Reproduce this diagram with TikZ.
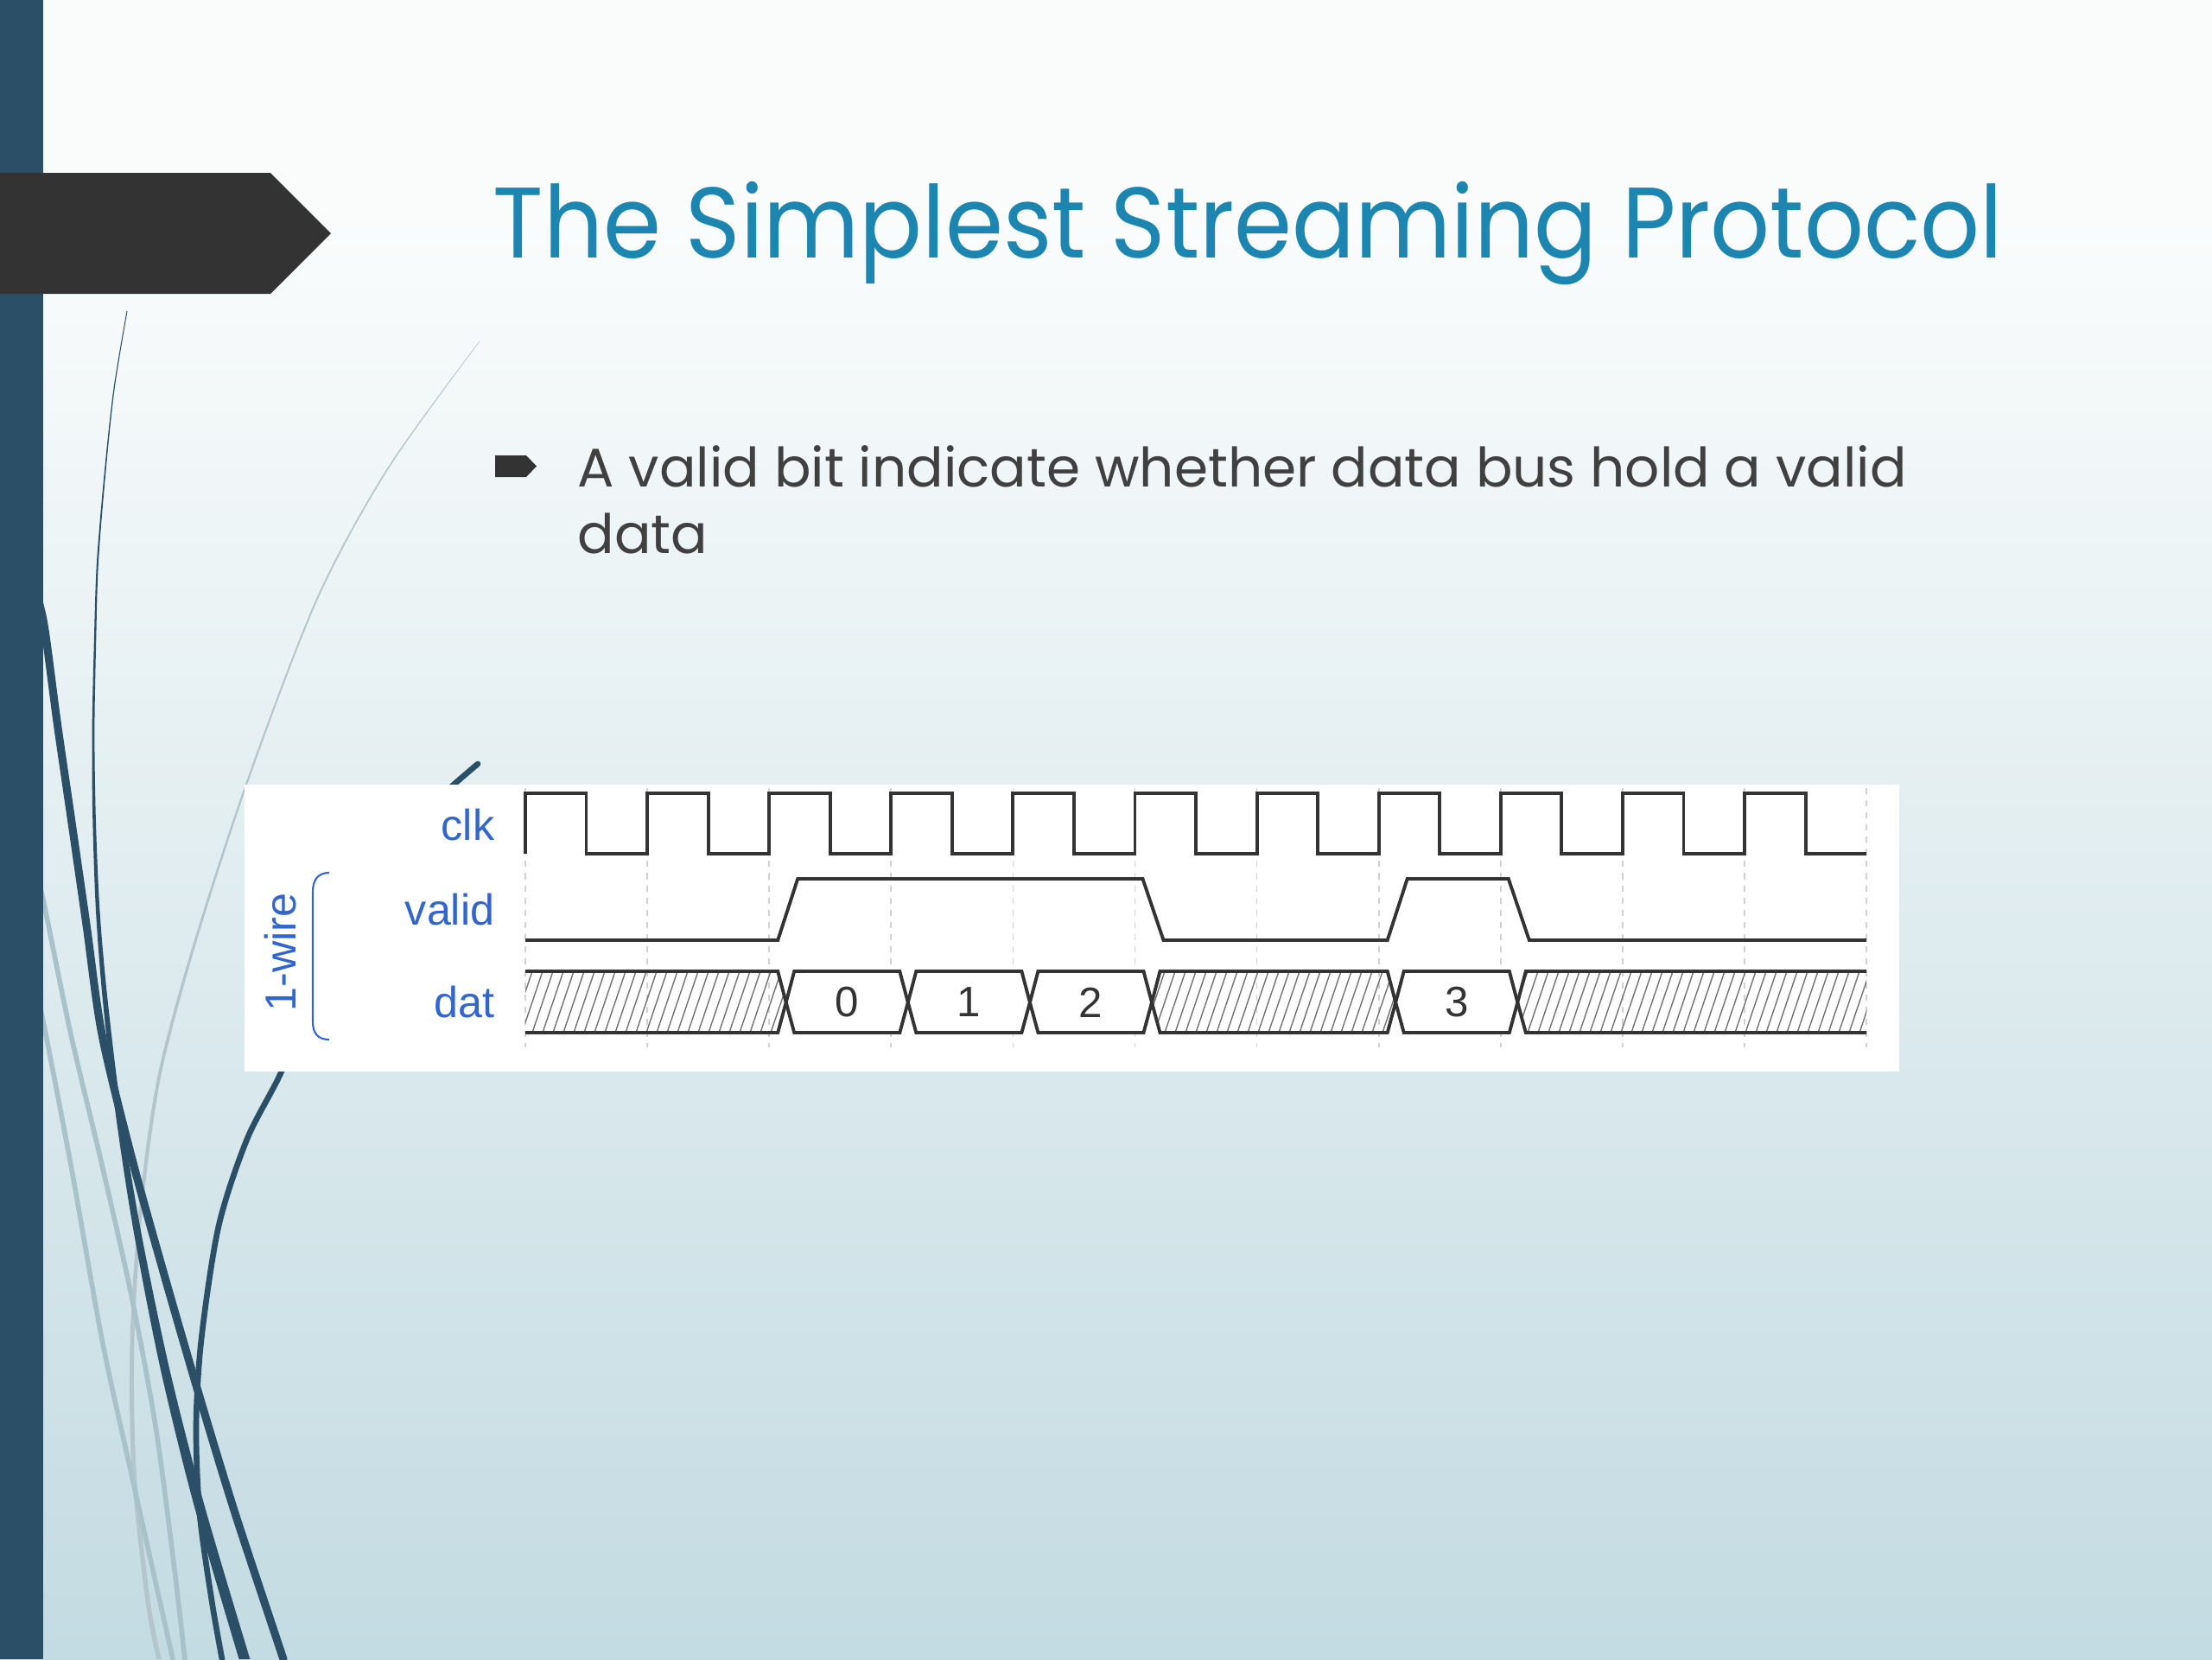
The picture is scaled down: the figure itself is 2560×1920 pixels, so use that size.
\documentclass[tikz,border=0pt]{standalone}
\usepackage{fontspec}
\usepackage{xcolor}
\definecolor{barblue}{HTML}{2B4F67}
\definecolor{tagdark}{HTML}{333333}
\definecolor{titleblue}{HTML}{1C86B1}
\definecolor{bodygray}{HTML}{404040}
\definecolor{sigblue}{HTML}{3366CC}
\definecolor{bgtop}{HTML}{FAFCFC}
\definecolor{bgbottom}{HTML}{C3DBE2}
\definecolor{swirllight}{HTML}{A9C1C9}
\definecolor{swirlfaint}{HTML}{B4C6CB}
\newfontfamily\titlefont{Poppins}
\newfontfamily\sigfont{Liberation Sans}
\usetikzlibrary{calc}
% x position of the k-th rising clock edge
\newcommand{\clkx}[1]{608+141.1*#1}

\begin{document}
\begin{tikzpicture}[x=0.01cm,y=-0.01cm,
  wave/.style={draw=tagdark,line width=1.1pt},
  gridline/.style={draw=black!18,line width=0.5pt,dash pattern=on 2pt off 2pt},
  hatch/.style={draw=black!55,line width=0.4pt},
  sig/.style={font=\sigfont\fontsize{14.3}{16}\selectfont,text=sigblue,inner sep=0pt},
  val/.style={font=\sigfont\fontsize{14}{16}\selectfont,text=tagdark,inner sep=0pt},
  swirl/.style={draw=barblue,line cap=round},
  swirlpale/.style={draw=swirllight,line cap=round}
]

% Fondo
\useasboundingbox (0,0) rectangle (2560,1920);
\fill[bgtop] (0,0) rectangle (2560,250);
\shade[top color=bgtop,bottom color=bgbottom] (0,250) rectangle (2560,1920);

% Curvas decorativas
\fill[swirlfaint] plot[smooth] coordinates {(555,394.5) (448.4,541.5) (366.2,692.5) (284.8,905) (222.4,1096) (182,1247) (160.8,1398) (150.6,1550) (152.4,1701) (168.2,1852) (181,1920)}
  -- plot[smooth] coordinates {(187,1920) (173.8,1852) (157.6,1701) (155.4,1550) (165.2,1398) (186,1247) (225.6,1096) (287.2,905) (367.8,693.5) (449.6,542.5) (555,395.5)} -- cycle;
\draw[swirlpale,line width=1.6pt] plot[smooth] coordinates {(40,1000) (51,1046) (82,1197) (118,1348) (152,1499) (180,1650) (200,1800) (214,1920)};
\draw[swirlpale,line width=1.6pt] plot[smooth] coordinates {(40,1140) (51,1187) (82,1348) (118,1550) (151,1701) (200,1920)};
\fill[barblue] plot[smooth] coordinates {(146.5,360) (131.4,450) (121.2,542) (112,650) (108.8,743) (106.6,845) (107.2,945) (110.8,1050) (118.2,1150) (132.6,1280) (153.8,1420) (184.8,1580) (224,1740) (276.6,1920)}
  -- plot[smooth] coordinates {(289.4,1920) (236,1740) (195.2,1580) (162.2,1420) (139.4,1280) (123.8,1150) (115.2,1050) (110.8,945) (109.4,845) (111.2,743) (114,650) (122.8,542) (132.6,450) (147.5,360)} -- cycle;
\draw[swirl,line width=2.6pt] plot[smooth] coordinates {(40,680) (51,723) (66,835) (82,945) (100,1070) (118,1197) (152,1338) (190,1475) (230,1613) (272,1751) (328,1920)};
\draw[swirl,line width=1.9pt] plot[smooth] coordinates {(553,884) (470,960) (400,1060) (350,1160) (327,1237) (286,1318) (253,1419) (233,1550) (227,1650) (231,1751) (245,1852) (257,1920)};

% Barra lateral y etiqueta
\fill[barblue] (0,0) rectangle (50,1920);
\fill[tagdark] (0,200) -- (313,200) -- (383,270) -- (313,340) -- (0,340) -- cycle;

% Titulo
\node[anchor=base west,inner sep=0pt,text=titleblue,
      font=\titlefont\fontsize{33}{40}\selectfont] (title) at (570,298)
      {\scalebox{0.93}[1]{The Simplest Streaming Protocol}};

% Punto
\fill[tagdark] (573,527) -- (609,527) -- (621,539.5) -- (609,552) -- (573,552) -- cycle;
\node[anchor=base west,inner sep=0pt,text=bodygray,
      font=\titlefont\fontsize{17.9}{21.9}\selectfont] (point1) at (668,563)
      {A valid bit indicate whether data bus hold a valid};
\node[anchor=base west,inner sep=0pt,text=bodygray,
      font=\titlefont\fontsize{17.9}{21.9}\selectfont] (point2) at (668,640) {data};

% Cronograma
\fill[white] (283,908) rectangle (2198,1240);

\foreach \k in {0,...,11}
  \draw[gridline] ({\clkx{\k}},912) -- ({\clkx{\k}},1212);

\node[sig,anchor=base east] (clk) at (573,972) {clk};
\node[sig,anchor=base east] (valid) at (573,1070) {valid};
\node[sig,anchor=base east] (dat) at (573,1177) {dat};
\node[sig,rotate=90,anchor=base] (wire) at (342,1102) {1-wire};
\draw[sigblue,line width=0.6pt] (381,1010) .. controls (368,1010) and (362,1018) .. (362,1032)
  -- (362,1182) .. controls (362,1196) and (368,1203) .. (381,1203);

% clk
\draw[wave] (608,988) \foreach \k in {0,...,10} {
  -- ({\clkx{\k}},918) -- ({\clkx{\k}+70.55},918) -- ({\clkx{\k}+70.55},988) -- ({\clkx{\k}+141.1},988)};

% valid
\draw[wave] (608,1088) -- ({\clkx{2}+10},1088) -- ({\clkx{2}+33},1017) -- ({\clkx{5}+9},1017)
  -- ({\clkx{5}+33},1088) -- ({\clkx{7}+10},1088) -- ({\clkx{7}+33},1017) -- ({\clkx{8}+9},1017)
  -- ({\clkx{8}+33},1088) -- (2160,1088);

% dat: tramos rayados
\begin{scope}
  \clip (608,1124) -- ({\clkx{2}+10},1124) -- ({\clkx{2}+19.5},1160) -- ({\clkx{2}+10},1195) -- (608,1195) -- cycle
        ({\clkx{5}+19.5},1160) -- ({\clkx{5}+29},1124) -- ({\clkx{7}+10},1124) -- ({\clkx{7}+19.5},1160)
          -- ({\clkx{7}+10},1195) -- ({\clkx{5}+29},1195) -- cycle
        ({\clkx{8}+19.5},1160) -- ({\clkx{8}+29},1124) -- (2160,1124) -- (2160,1195) -- ({\clkx{8}+29},1195) -- cycle;
  \foreach \h in {580,592,...,2170}
    \draw[hatch] (\h,1195) -- ++(24,-71);
\end{scope}
\draw[wave] (608,1124) -- ({\clkx{2}+10},1124) -- ({\clkx{2}+19.5},1160) -- ({\clkx{2}+10},1195) -- (608,1195);
\draw[wave] ({\clkx{5}+19.5},1160) -- ({\clkx{5}+29},1124) -- ({\clkx{7}+10},1124) -- ({\clkx{7}+19.5},1160)
  -- ({\clkx{7}+10},1195) -- ({\clkx{5}+29},1195) -- cycle;
\draw[wave] (2160,1124) -- ({\clkx{8}+29},1124) -- ({\clkx{8}+19.5},1160) -- ({\clkx{8}+29},1195) -- (2160,1195);

% dat: valores
\foreach \a/\b/\v in {2/3/0, 3/4/1, 4/5/2, 7/8/3} {
  \draw[wave,fill=white] ({\clkx{\a}+19.5},1160) -- ({\clkx{\a}+29},1124) -- ({\clkx{\b}+10},1124)
    -- ({\clkx{\b}+19.5},1160) -- ({\clkx{\b}+10},1195) -- ({\clkx{\a}+29},1195) -- cycle;
  \node[val] (v\v) at ({(\clkx{\a}+\clkx{\b})/2+19.5},1160) {\v};
}

\end{tikzpicture}
\end{document}
